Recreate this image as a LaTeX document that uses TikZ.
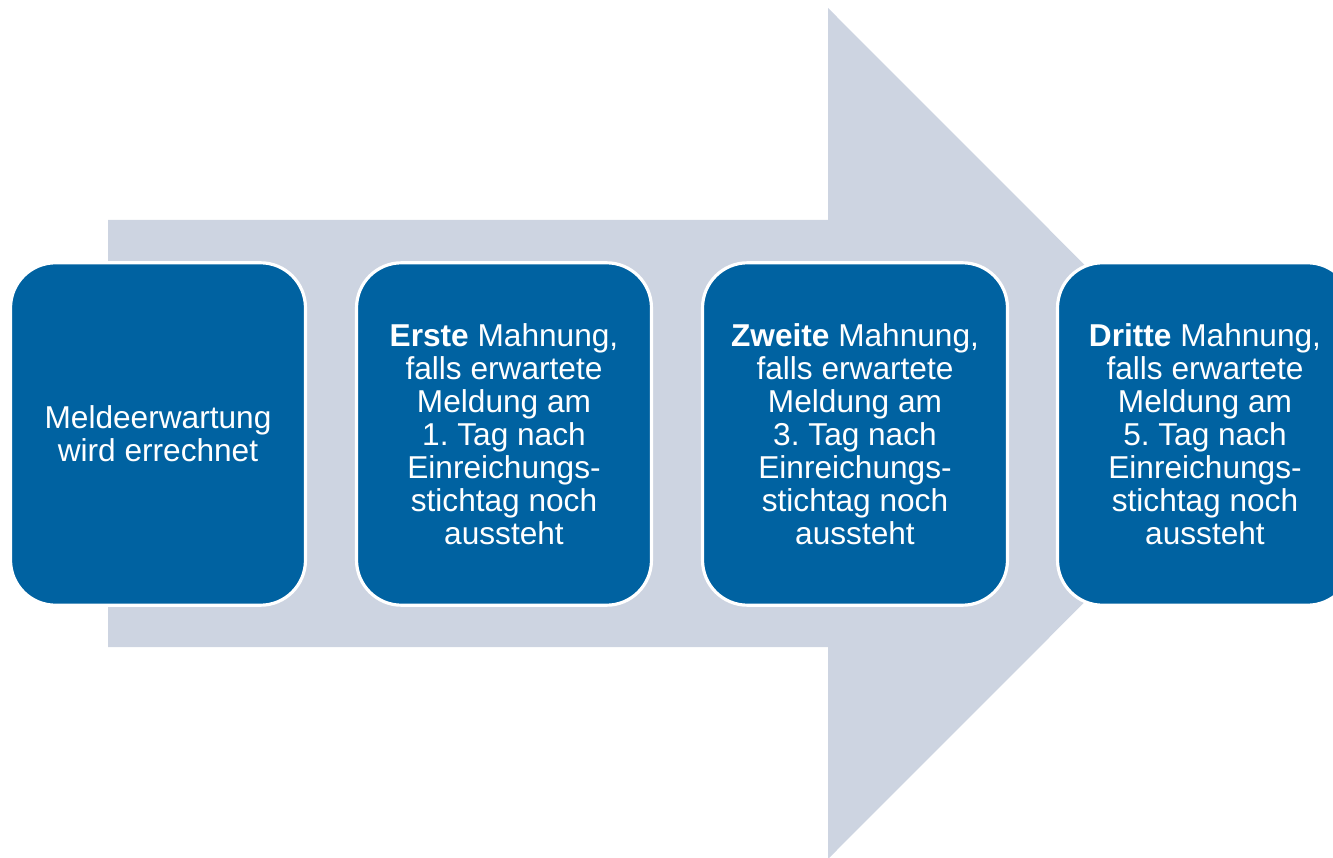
\documentclass[tikz,border=0pt]{standalone}
\usepackage{fontspec}
\setmainfont{Liberation Sans}
\frenchspacing
\definecolor{stepblue}{RGB}{0,98,161}
\definecolor{arrowgray}{RGB}{205,212,225}
\tikzset{
  stepbox/.style={draw=white, line width=1.8pt, fill=stepblue, rounded corners=0.9cm,
    minimum width=5.9cm, minimum height=6.85cm, align=center, text=white,
    font=\fontsize{18}{18.8}\selectfont, inner sep=0pt},
}
\begin{document}
\begin{tikzpicture}[x=0.02cm,y=-0.02cm]
      \useasboundingbox (0,0) rectangle (1333,858);
      \clip (0,0) rectangle (1333,858);

      % big arrow in the back
      \fill[arrowgray] (108,220) -- (828,220) -- (828,8) -- (1253,433.5)
        -- (828,859) -- (828,647) -- (108,647) -- cycle;

      \node[stepbox] (calc)   at (158,434) {Meldeerwartung\\wird errechnet};
      \node[stepbox] (first)  at (504,434) {\textbf{Erste} Mahnung,\\falls erwartete\\Meldung am\\1. Tag nach\\Einreichungs-\\stichtag noch\\aussteht};
      \node[stepbox, minimum width=6.1cm] (second) at (855,434) {\textbf{Zweite} Mahnung,\\falls erwartete\\Meldung am\\3. Tag nach\\Einreichungs-\\stichtag noch\\aussteht};
      \node[stepbox] (third)  at (1205,434) {\textbf{Dritte} Mahnung,\\falls erwartete\\Meldung am\\5. Tag nach\\Einreichungs-\\stichtag noch\\aussteht};
    \end{tikzpicture}
\end{document}
